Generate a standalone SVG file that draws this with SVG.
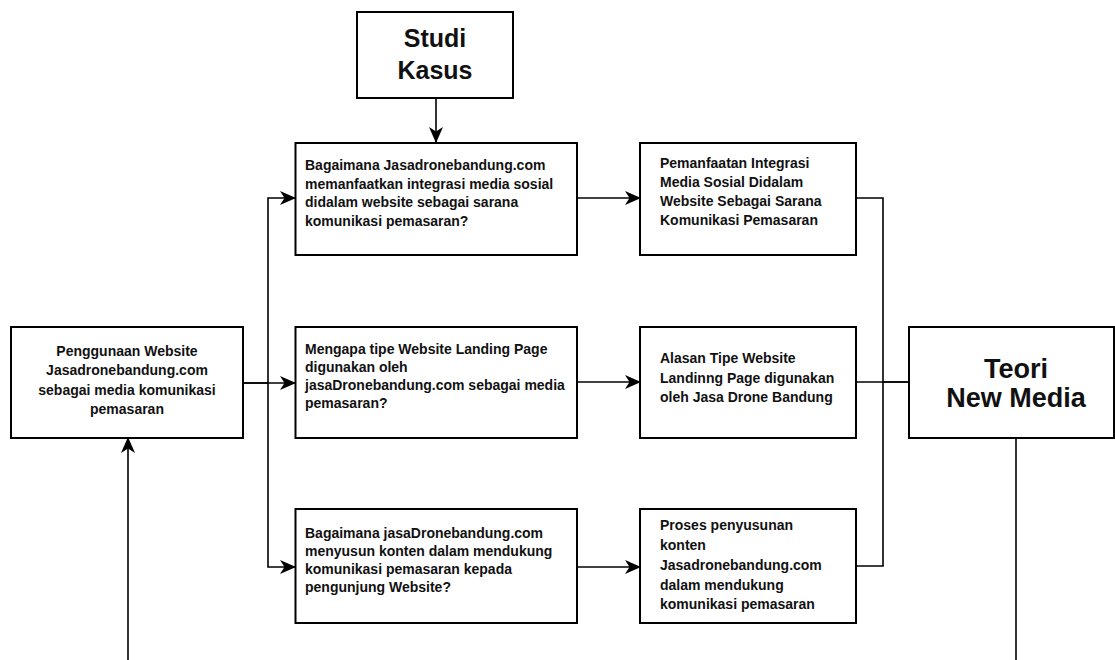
<svg xmlns="http://www.w3.org/2000/svg" width="1115" height="660" viewBox="0 0 1115 660">
<defs>
<style>
.box{fill:#fff;stroke:#000;stroke-width:2}
.t{font-family:"Liberation Sans",Arial,sans-serif;font-weight:bold;font-size:14px;fill:#111}
.c{text-anchor:middle}
.big{font-family:"Liberation Sans",Arial,sans-serif;font-weight:bold;fill:#111;text-anchor:middle}
.ln{fill:none;stroke:#000;stroke-width:1.6}
</style>
<marker id="ah" markerWidth="16" markerHeight="14" refX="15" refY="7" orient="auto" markerUnits="userSpaceOnUse">
<path d="M0,0 L16,7 L0,14 L4.5,7 Z" fill="#000"/>
</marker>
</defs>
<rect width="1115" height="660" fill="#fff"/>
<g id="connectors">
<path class="ln" d="M436,98 V142" marker-end="url(#ah)"/>
<path class="ln" d="M243,383 H268 V198 H295" marker-end="url(#ah)"/>
<path class="ln" d="M243,383 H295" marker-end="url(#ah)"/>
<path class="ln" d="M268,383 V567 H295" marker-end="url(#ah)"/>
<path class="ln" d="M577,198 H640" marker-end="url(#ah)"/>
<path class="ln" d="M577,382 H640" marker-end="url(#ah)"/>
<path class="ln" d="M577,567 H640" marker-end="url(#ah)"/>
<path class="ln" d="M856,198 H883 V382 H909"/>
<path class="ln" d="M856,382 H909"/>
<path class="ln" d="M856,566 H883 V382"/>
<path class="ln" d="M128,660 V438" marker-end="url(#ah)"/>
<path class="ln" d="M1016,438 V660"/>
</g>
<g id="studi-kasus">
<rect class="box" x="357" y="12" width="156" height="86"/>
<text class="big" font-size="25" x="435" y="47">Studi</text>
<text class="big" font-size="25" x="435" y="79">Kasus</text>
</g>
<g id="penggunaan">
<rect class="box" x="11" y="327" width="232" height="111"/>
<text class="t c" x="127" y="356">Penggunaan Website</text>
<text class="t c" x="127" y="375">Jasadronebandung.com</text>
<text class="t c" x="127" y="394.5">sebagai media komunikasi</text>
<text class="t c" x="127" y="413.5">pemasaran</text>
</g>
<g id="q1">
<rect class="box" x="295.5" y="143" width="281.5" height="112"/>
<text class="t" x="305" y="170">Bagaimana Jasadronebandung.com</text>
<text class="t" x="305" y="188.5">memanfaatkan integrasi media sosial</text>
<text class="t" x="305" y="207">didalam website sebagai sarana</text>
<text class="t" x="305" y="225.5">komunikasi pemasaran?</text>
</g>
<g id="q2">
<rect class="box" x="295.5" y="327" width="281.5" height="111"/>
<text class="t" x="305" y="354">Mengapa tipe Website Landing Page</text>
<text class="t" x="305" y="372">digunakan oleh</text>
<text class="t" x="305" y="390">jasaDronebandung.com sebagai media</text>
<text class="t" x="305" y="408">pemasaran?</text>
</g>
<g id="q3">
<rect class="box" x="295.5" y="509" width="281.5" height="114"/>
<text class="t" x="305" y="538">Bagaimana jasaDronebandung.com</text>
<text class="t" x="305" y="556">menyusun konten dalam mendukung</text>
<text class="t" x="305" y="574">komunikasi pemasaran kepada</text>
<text class="t" x="305" y="592">pengunjung Website?</text>
</g>
<g id="a1">
<rect class="box" x="640" y="143" width="216" height="112"/>
<text class="t" x="660" y="168">Pemanfaatan Integrasi</text>
<text class="t" x="660" y="187">Media Sosial Didalam</text>
<text class="t" x="660" y="206">Website Sebagai Sarana</text>
<text class="t" x="660" y="225">Komunikasi Pemasaran</text>
</g>
<g id="a2">
<rect class="box" x="640" y="327" width="216" height="111"/>
<text class="t" x="660" y="363">Alasan Tipe Website</text>
<text class="t" x="660" y="383">Landinng Page digunakan</text>
<text class="t" x="660" y="402">oleh Jasa Drone Bandung</text>
</g>
<g id="a3">
<rect class="box" x="640" y="509" width="216" height="114"/>
<text class="t" x="660" y="530">Proses penyusunan</text>
<text class="t" x="660" y="550">konten</text>
<text class="t" x="660" y="570">Jasadronebandung.com</text>
<text class="t" x="660" y="589.5">dalam mendukung</text>
<text class="t" x="660" y="609">komunikasi pemasaran</text>
</g>
<g id="teori">
<rect class="box" x="909" y="327" width="205" height="111"/>
<text class="big" font-size="27" x="1016" y="378">Teori</text>
<text class="big" font-size="27" x="1016" y="406.5">New Media</text>
</g>
</svg>
